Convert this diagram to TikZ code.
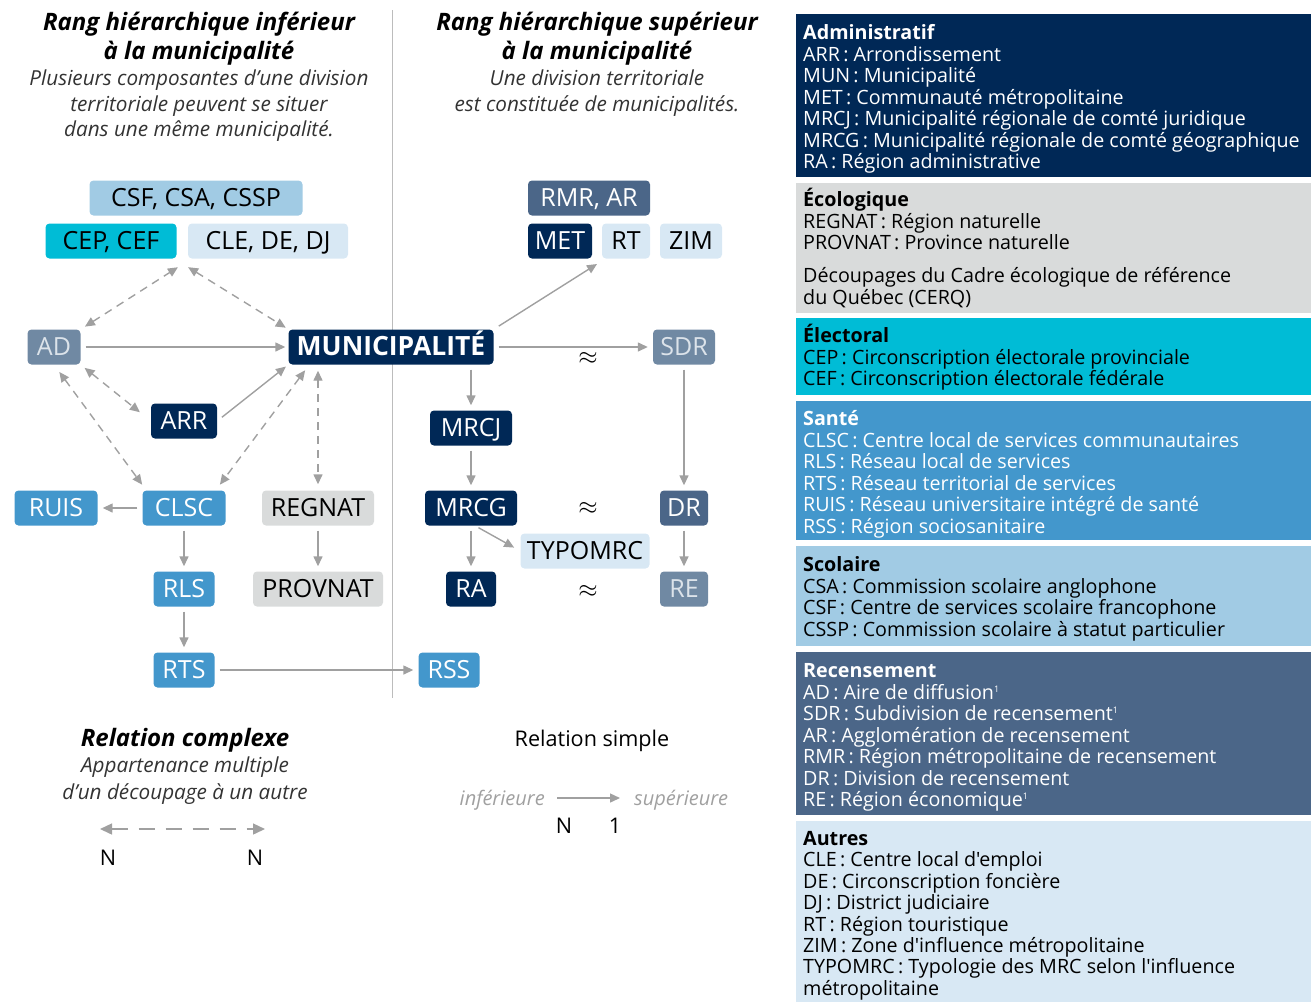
\documentclass[tikz,border=0pt]{standalone}
\usepackage{fontspec}
\setmainfont{Open Sans}[Ligatures=TeXOff]
\usetikzlibrary{arrows.meta}

\definecolor{admc}{HTML}{002856}
\definecolor{recc}{HTML}{4B6688}
\definecolor{reclc}{HTML}{7089A3}
\definecolor{santec}{HTML}{4397CC}
\definecolor{scolc}{HTML}{A1CBE4}
\definecolor{elecc}{HTML}{00BCD6}
\definecolor{ecoc}{HTML}{D9DBDB}
\definecolor{autc}{HTML}{D8E8F4}
\definecolor{argrey}{HTML}{A0A0A0}
\definecolor{palec}{HTML}{DCE3EA}
\definecolor{subc}{HTML}{333333}
\newcommand{\noteone}{\raisebox{7pt}{\fontsize{9}{9}\selectfont 1}}

\begin{document}
\begin{tikzpicture}[x=1pt,y=-1pt,
  >={Triangle[length=10pt,width=9pt]},
  arr/.style={->,draw=argrey,line width=1.4pt,shorten >=5pt,shorten <=5pt},
  darr/.style={<->,draw=argrey,line width=1.4pt,dash pattern=on 8pt off 6pt,
    shorten >=5pt,shorten <=5pt},
  cell/.style={rounded corners=4pt,minimum height=35pt,inner sep=0pt,
    text height=18pt,text depth=1pt,font=\fontsize{25}{30}\selectfont},
  adm/.style={cell,fill=admc,text=white},
  rec/.style={cell,fill=recc,text=white},
  recl/.style={cell,fill=reclc,text=palec},
  sante/.style={cell,fill=santec,text=white},
  scol/.style={cell,fill=scolc},
  elec/.style={cell,fill=elecc},
  eco/.style={cell,fill=ecoc},
  aut/.style={cell,fill=autc},
  head/.style={anchor=base,inner sep=0pt,font=\fontsize{24}{28}\selectfont\bfseries\itshape},
  sub/.style={anchor=base,inner sep=0pt,text=subc,font=\fontsize{20.7}{25}\selectfont\itshape},
  leg/.style={anchor=base west,inner sep=0pt,font=\fontsize{19.7}{24}\selectfont},
  plain/.style={anchor=base,inner sep=0pt,font=\fontsize{21.6}{26}\selectfont}]

  \useasboundingbox (0,0) rectangle (1313,1002);

  % headers
  \node[head] (hl1) at (199,30.5) {Rang hiérarchique inférieur};
  \node[head] (hl2) at (199,59.5) {à la municipalité};
  \node[sub] (sl1) at (199,85.5) {Plusieurs composantes d’une division};
  \node[sub] (sl2) at (199,111.5) {territoriale peuvent se situer};
  \node[sub] (sl3) at (199,136.5) {dans une même municipalité.};
  \node[head] (hr1) at (597,30.5) {Rang hiérarchique supérieur};
  \node[head] (hr2) at (597,59.5) {à la municipalité};
  \node[sub] (sr1) at (597,85.5) {Une division territoriale};
  \node[sub] (sr2) at (597,111.5) {est constituée de municipalités.};

  \draw[argrey!70,line width=1pt] (392,10) -- (392,698);

  % boxes, lower side
  \node[scol,minimum width=213pt] (CSF) at (196,198) {CSF, CSA, CSSP};
  \node[elec,minimum width=131pt] (CEP) at (111,241) {CEP, CEF};
  \node[aut,minimum width=160pt]  (CLE) at (268,241) {CLE, DE, DJ};
  \node[recl,minimum width=53pt]  (AD)  at (54,347)  {AD};
  \node[adm,minimum width=205pt,font=\fontsize{26.5}{30}\selectfont\bfseries] (MUN) at (391,347) {MUNICIPALITÉ};
  \node[adm,minimum width=66pt]   (ARR) at (184,421) {ARR};
  \node[sante,minimum width=83pt] (RUIS) at (56,508) {RUIS};
  \node[sante,minimum width=83pt] (CLSC) at (184,508) {CLSC};
  \node[eco,minimum width=112pt]  (REGNAT) at (318,508) {REGNAT};
  \node[sante,minimum width=61pt] (RLS) at (184,589) {RLS};
  \node[eco,minimum width=130pt]  (PROVNAT) at (318,589) {PROVNAT};
  \node[sante,minimum width=61pt] (RTS) at (184,670) {RTS};
  \node[sante,minimum width=61pt] (RSS) at (449,670) {RSS};

  % boxes, upper side
  \node[rec,minimum width=122pt]  (RMR) at (589,198) {RMR, AR};
  \node[adm,minimum width=64pt]   (MET) at (560,241) {MET};
  \node[aut,minimum width=48pt]   (RT)  at (626,241) {RT};
  \node[aut,minimum width=62pt]   (ZIM) at (691,241) {ZIM};
  \node[recl,minimum width=62pt]  (SDR) at (684,347) {SDR};
  \node[adm,minimum width=82pt]   (MRCJ) at (471,428) {MRCJ};
  \node[adm,minimum width=92pt]   (MRCG) at (471,508) {MRCG};
  \node[rec,minimum width=48pt]   (DR)  at (684,508) {DR};
  \node[aut,minimum width=129pt]  (TYPOMRC) at (585,551) {TYPOMRC};
  \node[adm,minimum width=50pt]   (RA)  at (471,589) {RA};
  \node[recl,minimum width=48pt]  (RE)  at (684,589) {RE};

  \node[font=\fontsize{26}{30}\selectfont] (ap1) at (588,358) {$\approx$};
  \node[font=\fontsize{26}{30}\selectfont] (ap2) at (588,508) {$\approx$};
  \node[font=\fontsize{26}{30}\selectfont] (ap3) at (588,591) {$\approx$};

  \coordinate (grp) at (183,264);
  \coordinate (upr) at (597,264);

  % complex relations
  \draw[darr,shorten >=6pt] (AD.north east) -- (grp);
  \draw[darr,shorten <=6pt,shorten >=3pt] (grp) -- (MUN.north west);
  \draw[darr,shorten >=14pt] (AD.south east) -- (ARR.west);
  \draw[darr,shorten <=9pt,shorten >=7pt] (AD.south) -- ([xshift=4pt]CLSC.north west);
  \draw[darr,shorten <=7pt,shorten >=7pt] ([xshift=21pt]MUN.south west) -- ([xshift=-10pt]CLSC.north east);
  \draw[darr,shorten <=6pt,shorten >=6pt] (REGNAT.north |- MUN.south) -- (REGNAT.north);

  % simple relations
  \draw[arr,shorten >=3pt] (AD) -- (MUN);
  \draw[arr,shorten <=6pt,shorten >=3pt] (ARR.east) -- (MUN.south west);
  \draw[arr,shorten <=6pt,shorten >=0pt] (MUN.north east) -- (upr);
  \draw[arr] (MUN) -- (SDR);
  \draw[arr] (CLSC) -- (RUIS);
  \draw[arr] (CLSC) -- (RLS);
  \draw[arr] (RLS) -- (RTS);
  \draw[arr] (REGNAT) -- (PROVNAT);
  \draw[arr] (RTS) -- (RSS);
  \draw[arr] (MRCJ.north |- MUN.south) -- (MRCJ.north);
  \draw[arr] (MRCJ) -- (MRCG);
  \draw[arr] (MRCG) -- (RA);
  \draw[arr,shorten <=4pt,shorten >=7pt] ([xshift=4pt]MRCG.south) -- (TYPOMRC.west);
  \draw[arr] (SDR) -- (DR);
  \draw[arr] (DR) -- (RE);

  % legend, bottom
  \node[head] (lc1) at (185,746) {Relation complexe};
  \node[sub] (lc2) at (185,772.5) {Appartenance multiple};
  \node[sub] (lc3) at (185,799) {d’un découpage à un autre};
  \coordinate (cl) at (100,829);
  \coordinate (cr) at (265,829);
  \draw[darr,>={Triangle[length=12pt,width=11pt]},dash pattern=on 16pt off 11pt,
    shorten <=0pt,shorten >=0pt] (cl) -- (cr);
  \node[plain] (n1) at (108,865) {N};
  \node[plain] (n2) at (255,865) {N};

  \node[plain] (ls) at (592,746) {Relation simple};
  \node[sub,anchor=base east,text=argrey,font=\fontsize{20}{24}\selectfont\itshape] (inf) at (545,805) {inférieure};
  \node[sub,anchor=base west,text=argrey,font=\fontsize{20}{24}\selectfont\itshape] (supr) at (634,805) {supérieure};
  \draw[arr,shorten <=12pt,shorten >=14pt] (inf.east |- 0,798) -- (supr.west |- 0,798);
  \node[plain] (nN) at (564,833) {N};
  \node[plain] (n1b) at (615,833) {1};

  % panels
  \fill[admc]   (796,14) rectangle (1311,177);
  \fill[ecoc]   (796,183) rectangle (1311,313);
  \fill[elecc]  (796,318) rectangle (1311,395);
  \fill[santec] (796,401) rectangle (1311,540);
  \fill[scolc]  (796,546) rectangle (1311,646);
  \fill[recc]   (796,652) rectangle (1311,815);
  \fill[autc]   (796,821) rectangle (1311,1002);

  \foreach \t [count=\i from 0] in {{\bfseries Administratif},
      ARR\,: Arrondissement, MUN\,: Municipalité, MET\,: Communauté métropolitaine,
      MRCJ\,: Municipalité régionale de comté juridique,
      MRCG\,: Municipalité régionale de comté géographique,
      RA\,: Région administrative}
    \node[leg,text=white] (adm\i) at (803,39.5+21.5*\i) {\t};

  \foreach \yy/\t [count=\i] in {206.5/{\bfseries Écologique},
      228/REGNAT\,: Région naturelle, 249.5/PROVNAT\,: Province naturelle,
      282.5/Découpages du Cadre écologique de référence, 304/du Québec (CERQ)}
    \node[leg] (eco\i) at (803,\yy) {\t};

  \foreach \t [count=\i from 0] in {{\bfseries Électoral},
      CEP\,: Circonscription électorale provinciale,
      CEF\,: Circonscription électorale fédérale}
    \node[leg] (ele\i) at (803,342.5+21.5*\i) {\t};

  \foreach \t [count=\i from 0] in {{\bfseries Santé},
      CLSC\,: Centre local de services communautaires,
      RLS\,: Réseau local de services, RTS\,: Réseau territorial de services,
      RUIS\,: Réseau universitaire intégré de santé,
      RSS\,: Région sociosanitaire}
    \node[leg,text=white] (san\i) at (803,425.5+21.5*\i) {\t};

  \foreach \t [count=\i from 0] in {{\bfseries Scolaire},
      CSA\,: Commission scolaire anglophone,
      CSF\,: Centre de services scolaire francophone,
      CSSP\,: Commission scolaire à statut particulier}
    \node[leg] (sco\i) at (803,571.5+21.5*\i) {\t};

  \foreach \t [count=\i from 0] in {{\bfseries Recensement},
      AD\,: Aire de diffusion\noteone,
      SDR\,: Subdivision de recensement\noteone,
      AR\,: Agglomération de recensement,
      RMR\,: Région métropolitaine de recensement,
      DR\,: Division de recensement,
      RE\,: Région économique\noteone}
    \node[leg,text=white] (rec\i) at (803,677.5+21.5*\i) {\t};

  \foreach \t [count=\i from 0] in {{\bfseries Autres},
      CLE\,: Centre local d'emploi, DE\,: Circonscription foncière,
      DJ\,: District judiciaire, RT\,: Région touristique,
      ZIM\,: Zone d'influence métropolitaine,
      TYPOMRC\,: Typologie des MRC selon l'influence, métropolitaine}
    \node[leg] (aut\i) at (803,845.5+21.4*\i) {\t};
\end{tikzpicture}
\end{document}
